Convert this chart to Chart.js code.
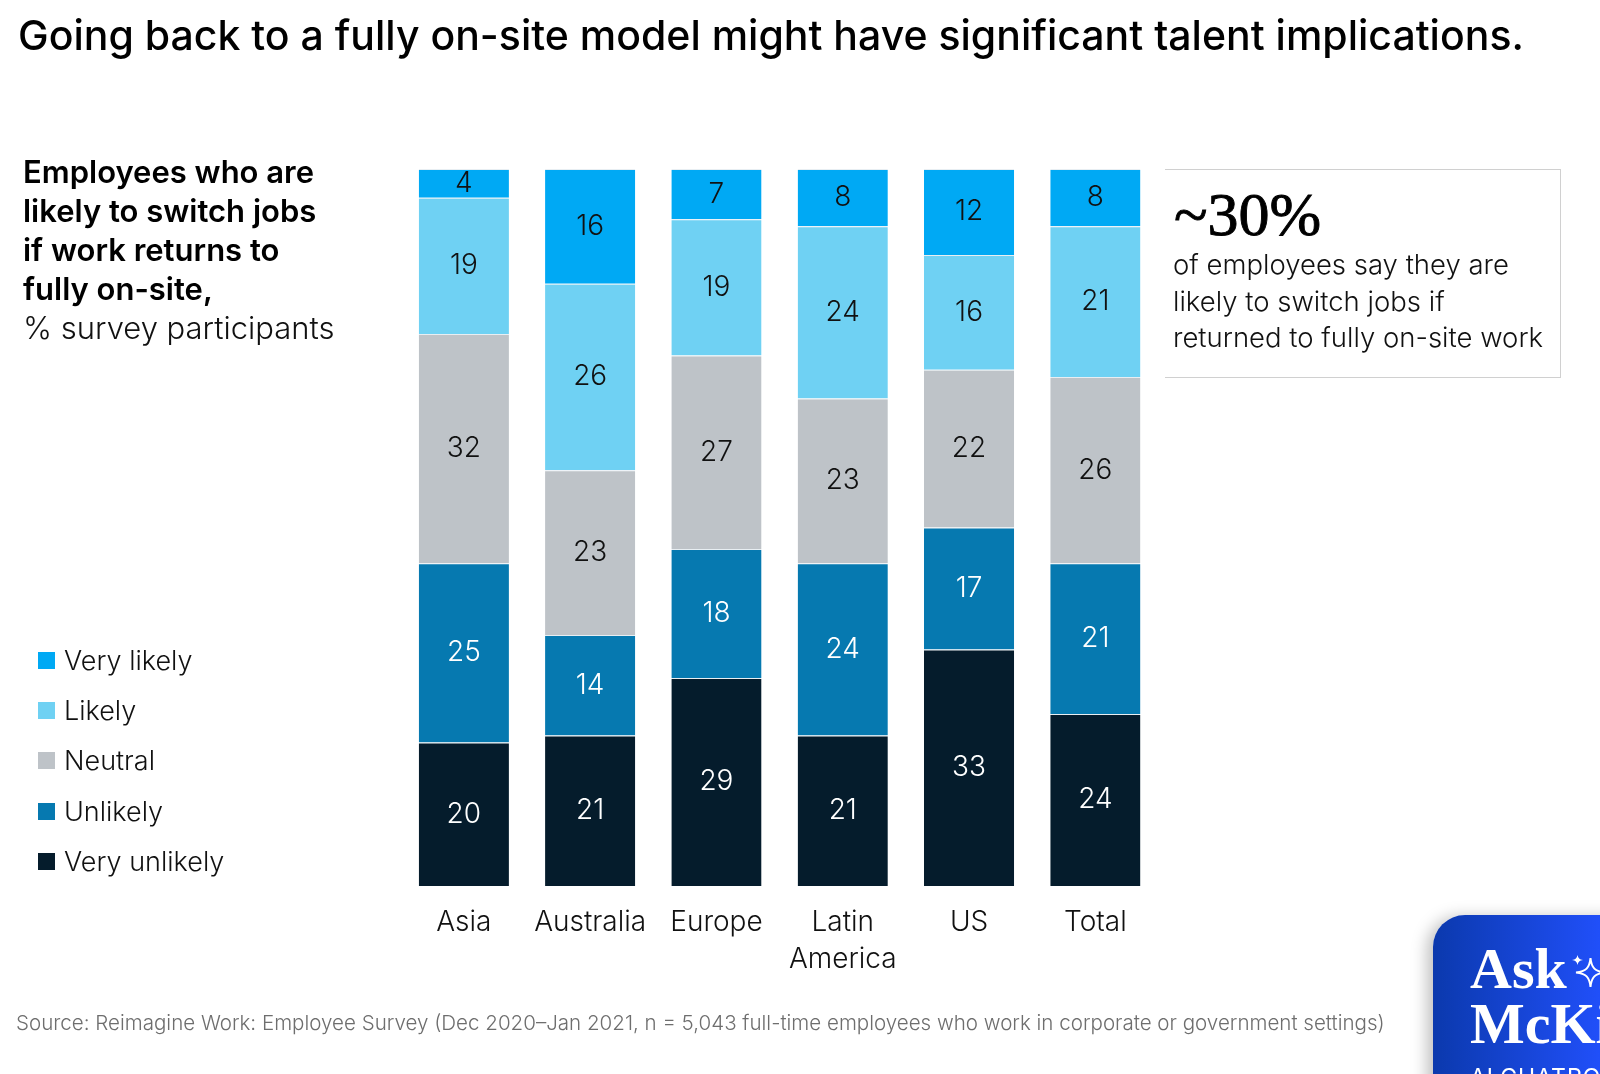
<!DOCTYPE html>
<html>
<head>
<meta charset="utf-8">
<script src="https://cdn.jsdelivr.net/npm/chart.js@4"></script>
<style>
    html, body { margin: 0; padding: 0; background: #fff; }
    body { position: relative; width: 1600px; height: 1074px; overflow: hidden; font-family: Inter, sans-serif; font-weight: 300; color: #111; }
    canvas { position: absolute; left: 0; top: 0; }
    .txt { position: absolute; white-space: nowrap; }
    #title { left: 18px; top: 12px; font-size: 41px; line-height: 46px; font-weight: 500; color: #000; }
    #subtitle { left: 23px; top: 152px; font-size: 31px; line-height: 39px; }
    #subtitle b { font-weight: 600; color: #000; }
    #callout { position: absolute; left: 1165px; top: 169px; width: 395px; height: 207px; border: 1.5px solid #d0d0d0; border-left: none; }
    #big { left: 1174px; top: 178px; font-family: "Liberation Serif", serif; font-size: 62px; line-height: 72px; font-weight: 400; color: #000; -webkit-text-stroke: 0.9px #000; }
    #note { left: 1173px; top: 246px; font-size: 27.5px; line-height: 36.6px; }
    #legend { position: absolute; left: 38px; top: 636px; }
    .item { position: relative; height: 50.2px; font-size: 27px; line-height: 50.2px; padding-left: 26px; }
    .item i { position: absolute; left: 0; top: 16px; width: 17px; height: 17px; }
    #source { left: 16px; top: 1010px; font-size: 20.56px; line-height: 26px; color: #6e6e6e; }
    #ask { position: absolute; left: 1433px; top: 915px; width: 240px; height: 210px; border-radius: 32px; background: linear-gradient(90deg, #0b39ad, #2251ff 75%); box-shadow: -6px 2px 16px rgba(0,0,0,.25); overflow: hidden; color: #fff; }
    #ask div { position: absolute; left: 37px; white-space: nowrap; }
    #ask .a1 { top: 26px; font: 700 58px/56px "Liberation Serif", serif; }
    #ask .a2 { top: 81px; font: 700 58px/56px "Liberation Serif", serif; }
    #ask .a3 { top: 148px; font-size: 23px; line-height: 28px; letter-spacing: 1px; font-weight: 400; }
    #ask svg { position: absolute; left: 139px; top: 40px; }
</style>
</head>
<body>
<canvas id="chart" width="1600" height="1074"></canvas>
<div class="txt" id="title">Going back to a fully on-site model might have significant talent implications.</div>
<div class="txt" id="subtitle"><b>Employees who are<br>likely to switch jobs<br>if work returns to<br>fully on-site,</b><br>% survey participants</div>
<div id="callout"></div>
<div class="txt" id="big">~30%</div>
<div class="txt" id="note">of employees say they are<br>likely to switch jobs if<br>returned to fully on-site work</div>
<div id="legend"></div>
<div class="txt" id="source">Source: Reimagine Work: Employee Survey (Dec 2020–Jan 2021, n = 5,043 full-time employees who work in corporate or government settings)</div>
<div id="ask">
    <div class="a1">Ask</div>
    <svg width="40" height="40" viewBox="0 0 40 40" fill="none" stroke="#fff" stroke-width="2">
        <path d="M18.500 3 C19.500 13 23 16.500 33 17.500 C23 18.500 19.500 22 18.500 32 C17.500 22 14 18.500 4 17.500 C14 16.500 17.500 13 18.500 3 Z"/>
        <path d="M5.500 0 C6 3 7.500 4.500 11 5 C7.500 5.500 6 7 5.500 10 C5 7 3.500 5.500 0 5 C3.500 4.500 5 3 5.500 0 Z" fill="#fff" stroke="none"/>
    </svg>
    <div class="a2">McKinsey</div>
    <div class="a3">ALCHATRONIX</div>
</div>
<script>
const categories = ['Asia', 'Australia', 'Europe', ['Latin', 'America'], 'US', 'Total'];
const veryLikely = [4, 16, 7, 8, 12, 8];
const likely = [19, 26, 19, 24, 16, 21];
const neutral = [32, 23, 27, 23, 22, 26];
const unlikely = [25, 14, 18, 24, 17, 21];
const veryUnlikely = [20, 21, 29, 21, 33, 24];
const legendLabels = ['Very likely', 'Likely', 'Neutral', 'Unlikely', 'Very unlikely'];
const legendColors = ['#00a9f4', '#6fd1f3', '#bec3c8', '#0679b0', '#051c2c'];

// html legend, same order as the picture (top of the stack first)
const legend = document.getElementById('legend');
legendLabels.forEach(function(label, i) {
    const item = document.createElement('div');
    item.className = 'item';
    item.innerHTML = '<i style="background:' + legendColors[i] + '"></i>' + label;
    legend.appendChild(item);
});

function makeSet(label, values, color, textColor) {
    return {
        label: label,
        data: values,
        backgroundColor: color,
        borderColor: '#e8eef2',
        borderWidth: { top: 1, bottom: 0, left: 0, right: 0 },
        borderSkipped: false,
        barPercentage: 0.714,
        categoryPercentage: 1,
        valueColor: textColor
    };
}

// no datalabels plugin here, so draw the numbers in the middle of each bar piece
const valueLabels = {
    id: 'valueLabels',
    afterDatasetsDraw(chart) {
        const ctx = chart.ctx;
        ctx.save();
        ctx.font = '300 28px Inter';
        ctx.textAlign = 'center';
        ctx.textBaseline = 'middle';
        chart.data.datasets.forEach(function(ds, i) {
            ctx.fillStyle = ds.valueColor;
            chart.getDatasetMeta(i).data.forEach(function(bar, j) {
                const p = bar.getProps(['x', 'y', 'base'], true);
                ctx.fillText(ds.data[j], p.x, (p.y + p.base) / 2);
            });
        });
        ctx.restore();
    }
};

new Chart(document.getElementById('chart').getContext('2d'), {
    type: 'bar',
    data: {
        labels: categories,
        datasets: [
            makeSet('Very unlikely', veryUnlikely, legendColors[4], '#ffffff'),
            makeSet('Unlikely', unlikely, legendColors[3], '#ffffff'),
            makeSet('Neutral', neutral, legendColors[2], '#111111'),
            makeSet('Likely', likely, legendColors[1], '#111111'),
            makeSet('Very likely', veryLikely, legendColors[0], '#111111')
        ]
    },
    options: {
        responsive: false,
        animation: false,
        layout: { padding: { left: 400.7, right: 441.5, top: 169, bottom: 0 } },
        plugins: { legend: { display: false }, tooltip: { enabled: false } },
        scales: {
            x: {
                stacked: true,
                grid: { display: false },
                border: { display: false },
                ticks: {
                    color: '#111',
                    padding: 10,
                    maxRotation: 0,
                    font: { family: 'Inter', size: 28, weight: '300', lineHeight: 1.33 }
                },
                afterFit(scale) { scale.height = 188; }
            },
            y: { stacked: true, display: false, min: 0, max: 100 }
        }
    },
    plugins: [valueLabels]
});
</script>
</body>
</html>
